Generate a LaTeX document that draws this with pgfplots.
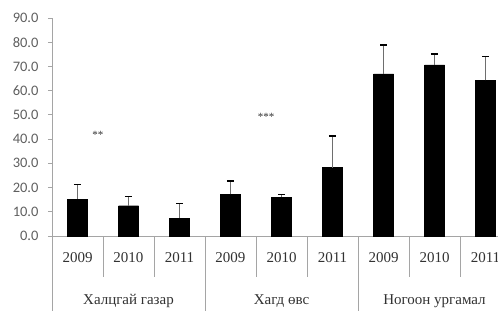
\documentclass[border=0pt]{standalone}
\usepackage{pgfplots}
\pgfplotsset{compat=1.18}
\usepackage{fontspec}
\setmainfont{Liberation Serif}
\newfontfamily\carlito{Carlito}
\definecolor{axgray}{RGB}{165,165,165}
\definecolor{lblgray}{RGB}{95,95,95}
\definecolor{txtgray}{RGB}{50,50,50}
\definecolor{errgray}{RGB}{110,110,110}
\begin{document}
\begin{tikzpicture}
\begin{axis}[
  scale only axis, width=459pt, height=218pt,
  xmin=0, xmax=9, ymin=0, ymax=90,
  axis x line*=bottom, axis y line*=left,
  axis line style={axgray, line width=0.8pt},
  clip=false,
  ytick={0,10,...,90},
  /pgf/number format/.cd, fixed, fixed zerofill, precision=1, assume math mode=true, /pgfplots/.cd,
  yticklabel style={font=\carlito\fontsize{14.5}{16}\selectfont, text=lblgray, xshift=-6pt},
  ytick style={axgray, line width=0.8pt},
  tick align=outside, major tick length=4pt,
  xtick={0.5,1.5,...,8.5},
  xticklabels={2009,2010,2011,2009,2010,2011,2009,2010,2011},
  x tick style={draw=none},
  xticklabel style={font=\fontsize{15}{18}\selectfont, text=txtgray, anchor=center, yshift=-18pt},
]
\coordinate (O) at (axis cs:0,0);
\addplot[ybar, bar width=20pt, fill=black, draw=black,
  error bars/.cd, y dir=plus, y explicit,
  error bar style={color=errgray, line width=1pt},
  error mark options={rotate=90, mark size=3.5pt, line width=1.3pt, color=black}]
  table[x=x, y=y, y error=e] {
x   y    e
0.5 15.2 6.2
1.5 12.5 3.7
2.5 7.4  6.1
3.5 17.2 5.5
4.5 16.1 1.1
5.5 28.2 13.1
6.5 66.9 12.0
7.5 70.7 4.5
8.5 64.2 9.9
};
\draw[axgray, line width=0.8pt] (axis cs:0,0) -- ++(0,-75pt);
\draw[axgray, line width=0.8pt] (axis cs:3,0) -- ++(0,-75pt);
\draw[axgray, line width=0.8pt] (axis cs:6,0) -- ++(0,-75pt);
\draw[axgray, line width=0.8pt] (axis cs:9,0) -- ++(0,-75pt);
\draw[axgray, line width=0.8pt] (axis cs:1,0) -- ++(0,-41pt);
\draw[axgray, line width=0.8pt] (axis cs:2,0) -- ++(0,-41pt);
\draw[axgray, line width=0.8pt] (axis cs:4,0) -- ++(0,-41pt);
\draw[axgray, line width=0.8pt] (axis cs:5,0) -- ++(0,-41pt);
\draw[axgray, line width=0.8pt] (axis cs:7,0) -- ++(0,-41pt);
\draw[axgray, line width=0.8pt] (axis cs:8,0) -- ++(0,-41pt);
\node[anchor=base, font=\fontsize{15}{18}\selectfont, text=txtgray] at ([yshift=-68pt]axis cs:1.5,0) {Халцгай газар};
\node[anchor=base, font=\fontsize{15}{18}\selectfont, text=txtgray] at ([yshift=-68pt]axis cs:4.5,0) {Хагд өвс};
\node[anchor=base, font=\fontsize{15}{18}\selectfont, text=txtgray] at ([yshift=-68pt]axis cs:7.5,0) {Ногоон ургамал};
\node[font=\fontsize{11}{12}\selectfont, text=txtgray] at (axis cs:0.9,41.7) {**};
\node[font=\fontsize{11}{12}\selectfont, text=txtgray] at (axis cs:4.2,49.2) {***};
\end{axis}
\pgfresetboundingbox
\path[use as bounding box] ([shift={(-52pt,-75pt)}]O) rectangle ([shift={(446pt,236pt)}]O);
\end{tikzpicture}
\end{document}
